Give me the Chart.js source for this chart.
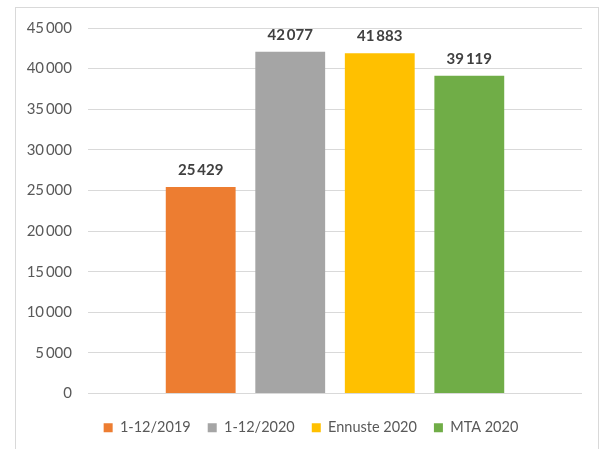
<!DOCTYPE html>
<html>
<head>
<meta charset="utf-8">
<script src="https://cdn.jsdelivr.net/npm/chart.js@4"></script>
<style>
  html, body { margin: 0; padding: 0; background: #fff; }
  #wrap { width: 602px; height: 449px; position: relative; }
</style>
</head>
<body>
<div id="wrap"><canvas id="chart" width="602" height="449"></canvas></div>
<script>
const seriesNames = ['1-12/2019', '1-12/2020', 'Ennuste 2020', 'MTA 2020'];
const seriesValues = [25429, 42077, 41883, 39119];
const seriesColors = ['#ED7D31', '#A5A5A5', '#FFC000', '#70AD47'];
const yMax = 45000;
const yStep = 5000;

function fmt(n) {
    return String(n).replace(/\B(?=(\d{3})+(?!\d))/g, '\u2009');
}

// outer frame like the office chart border
const framePlugin = {
    id: 'frame',
    beforeDraw(chart) {
        const ctx = chart.ctx;
        ctx.save();
        ctx.strokeStyle = '#d9d9d9';
        ctx.lineWidth = 1;
        ctx.strokeRect(15.5, 7.5, 583, 470);
        ctx.restore();
    }
};

// value labels above each bar
const valueLabels = {
    id: 'valueLabels',
    afterDatasetsDraw(chart) {
        const ctx = chart.ctx;
        ctx.save();
        ctx.font = 'bold 15px Lato';
        ctx.fillStyle = '#404040';
        ctx.textAlign = 'center';
        ctx.textBaseline = 'middle';
        chart.data.datasets.forEach((ds, i) => {
            const bar = chart.getDatasetMeta(i).data[0];
            ctx.fillText(fmt(ds.data[0]), bar.x, bar.y - 17);
        });
        ctx.restore();
    }
};

new Chart(document.getElementById('chart'), {
    type: 'bar',
    data: {
        labels: [''],
        datasets: seriesNames.map((name, i) => ({
            label: name,
            data: [seriesValues[i]],
            backgroundColor: seriesColors[i],
            categoryPercentage: 0.725,
            barPercentage: 0.78
        }))
    },
    options: {
        responsive: false,
        animation: false,
        layout: { padding: { top: 28, left: 20, right: 0, bottom: 4 } },
        scales: {
            x: {
                ticks: { display: false },
                grid: { display: false },
                border: { display: false },
                afterFit(scale) { scale.height = 10; }
            },
            y: {
                min: 0,
                max: yMax,
                afterFit(scale) { scale.width = 68; },
                ticks: {
                    stepSize: yStep,
                    padding: 16,
                    color: '#595959',
                    font: { family: 'Lato', size: 15 },
                    callback: v => fmt(v)
                },
                grid: { color: '#d9d9d9', drawTicks: false },
                border: { display: false }
            },
            // empty right margin so the legend sits where it does in the original
            y2: {
                position: 'right',
                ticks: { display: false },
                grid: { display: false },
                border: { display: false },
                afterFit(scale) { scale.width = 20; }
            }
        },
        plugins: {
            legend: {
                position: 'bottom',
                labels: {
                    boxWidth: 9,
                    boxHeight: 9,
                    padding: 17,
                    color: '#595959',
                    font: { family: 'Lato', size: 14.5 }
                }
            },
            tooltip: { enabled: false }
        }
    },
    plugins: [framePlugin, valueLabels]
});
</script>
</body>
</html>
